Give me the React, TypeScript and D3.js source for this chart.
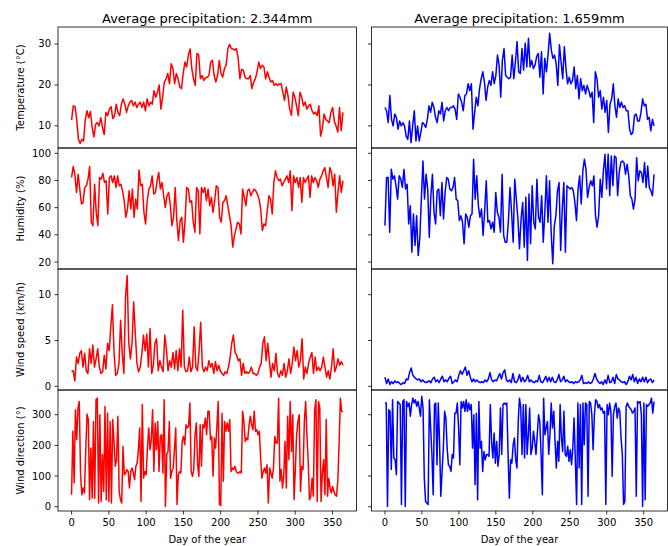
import React from "react";
import * as d3 from "d3";

const W = 668;
const H = 546;

const titles = ["Average precipitation: 2.344mm", "Average precipitation: 1.659mm"];
const rowLabels = ["Temperature (°C)", "Humidity (%)", "Wind speed (km/h)", "Wind direction (°)"];
const xTicks = [0, 50, 100, 150, 200, 250, 300, 350];
const lastDay = 364;

// station A (red) and station B (blue), daily readings
const tempA = [11.4,14.9,14.7,11.6,6.7,5.7,6.7,6.3,11.6,13.7,12.0,13.5,9.6,7.3,10.4,10.8,10.0,12.0,9.6,7.9,13.3,12.5,14.1,14.7,11.8,12.5,15.3,13.3,12.5,15.3,16.6,15.3,13.3,14.9,15.8,16.2,14.9,15.8,14.5,15.3,15.8,14.5,15.8,13.7,16.6,14.9,15.8,15.3,18.6,17.0,18.2,20.0,14.1,17.0,20.7,21.5,22.8,20.3,25.2,24.0,20.3,22.8,21.5,19.5,19.1,22.8,25.6,24.4,27.3,28.8,24.0,21.5,19.9,27.7,27.3,21.5,22.3,21.1,21.7,21.9,22.3,25.6,26.0,22.3,20.7,22.3,26.0,22.8,21.9,24.0,24.8,28.9,29.9,28.9,28.8,28.5,28.9,26.5,21.5,23.8,23.6,21.9,21.5,21.5,22.3,19.1,20.7,21.5,23.2,25.6,24.0,24.8,24.4,21.5,23.2,21.9,20.7,21.1,19.9,20.3,19.9,20.3,20.3,18.2,16.2,19.5,17.4,14.1,12.6,18.2,17.0,14.9,12.5,18.2,17.0,14.9,15.8,14.1,14.9,15.3,13.7,12.9,13.3,12.5,14.9,7.5,9.2,12.9,11.6,11.2,10.8,13.3,14.5,11.2,10.0,8.5,14.5,8.8,13.3];
const tempB = [14.5,13.7,10.8,17.4,11.6,10.0,12.9,12.1,9.2,11.2,10.0,10.8,10.0,7.5,6.7,11.2,5.9,10.0,13.7,6.3,10.0,6.3,8.4,10.8,10.4,9.6,11.6,14.9,13.3,15.8,14.5,12.1,10.8,13.7,12.9,15.8,11.2,13.7,14.5,13.7,14.5,14.5,14.9,14.1,11.6,17.8,17.0,15.8,13.7,17.4,17.8,20.3,18.6,20.3,9.2,13.3,17.0,14.9,19.1,21.5,23.2,20.7,16.2,19.5,21.1,19.9,23.2,20.3,22.3,27.3,24.8,17.0,26.0,28.9,22.3,21.9,21.5,21.9,27.3,21.5,25.6,30.6,23.2,22.8,28.9,23.6,30.2,24.4,31.4,24.4,26.0,24.0,24.8,26.9,27.7,21.9,28.1,17.8,26.5,23.2,27.3,32.6,28.5,26.5,27.3,25.2,19.9,29.8,25.6,21.5,29.3,24.0,20.3,21.9,20.3,21.1,24.4,19.1,22.3,16.6,21.5,18.6,19.9,17.8,19.9,18.6,17.0,18.2,10.8,23.2,21.5,17.0,18.6,14.1,17.0,13.3,16.2,8.4,15.3,16.6,20.3,14.9,12.1,16.6,14.5,15.8,14.5,14.9,13.7,13.7,9.2,7.9,8.4,12.5,12.9,11.2,11.2,13.3,16.6,14.9,15.3,11.6,12.1,8.8,11.6,10.0];

const humA = [82.2,90.2,84.6,71.2,84.6,73.7,62.7,63.9,74.9,76.1,81.0,90.2,49.3,46.8,77.3,56.6,46.8,82.2,81.0,85.4,78.5,79.8,55.4,82.2,83.4,78.5,83.4,74.9,83.4,76.1,77.3,72.4,65.1,52.9,59.0,72.4,59.0,73.7,52.9,66.3,59.0,87.8,76.1,77.3,56.6,48.0,65.1,73.7,76.1,83.4,70.0,71.2,79.8,85.9,73.7,78.5,68.8,60.2,68.8,71.2,62.7,46.8,52.9,74.9,50.5,35.9,50.5,52.9,34.6,50.5,74.9,73.7,63.9,65.1,49.3,42.0,74.9,72.4,40.7,74.9,71.2,74.9,65.1,73.7,61.5,67.6,56.6,65.1,76.1,74.9,52.9,49.3,63.9,65.1,68.8,61.5,54.1,46.8,31.0,39.5,44.4,49.3,48.0,40.7,73.7,67.6,61.5,72.4,73.7,68.8,71.2,73.7,72.4,70.0,66.3,59.0,43.2,48.0,46.8,57.8,68.8,66.3,55.4,78.5,87.1,82.2,79.8,81.0,76.1,78.5,81.0,83.4,78.5,87.1,57.8,83.4,78.5,82.2,74.9,82.2,63.9,82.2,78.5,81.0,83.4,67.6,83.4,78.5,82.2,79.8,74.9,81.0,83.4,87.1,89.5,82.2,74.9,89.5,85.9,76.1,84.6,56.6,71.2,83.4,71.2,79.8];
const humB = [46.8,82.2,82.2,42.0,88.3,81.0,83.4,76.1,66.3,83.4,81.0,74.9,88.3,73.7,77.3,48.0,61.5,27.3,55.4,32.2,54.1,24.9,37.1,66.3,94.4,66.3,84.6,73.7,38.3,68.8,84.6,56.6,48.0,72.4,73.7,54.1,78.5,51.7,71.2,82.2,81.0,73.7,72.4,74.9,82.2,66.3,65.1,50.5,54.1,49.3,33.4,55.4,52.9,45.6,54.1,55.4,95.6,66.3,83.4,61.5,52.9,59.0,39.5,57.8,79.8,49.3,50.5,44.4,49.3,42.0,71.2,56.6,52.9,42.0,84.6,39.5,34.6,34.6,50.5,74.9,56.6,34.6,81.0,66.3,51.7,29.8,51.7,63.9,31.0,67.6,21.2,70.0,33.4,76.1,49.3,44.4,81.0,52.9,49.3,68.8,34.6,56.6,83.4,49.3,79.8,42.0,18.8,46.8,54.1,72.4,78.5,28.5,59.0,78.5,27.3,76.1,74.9,73.7,74.9,72.4,63.9,50.5,73.7,83.4,62.7,87.1,95.6,88.3,67.6,74.9,79.8,76.1,83.4,54.1,45.6,54.1,81.0,67.6,87.1,99.3,73.7,99.3,68.8,98.0,76.1,98.0,96.8,68.8,85.9,93.2,94.4,93.2,84.6,92.0,83.4,68.8,66.3,59.0,66.3,96.8,79.8,87.1,85.9,78.5,93.2,74.9,90.7,74.9,72.4,68.8,84.6];

const windA = [1.6,1.7,0.6,3.2,2.5,3.6,3.9,2.1,3.6,1.7,1.4,4.1,2.5,4.5,2.1,3.0,4.1,2.1,1.4,1.6,3.4,1.9,4.7,3.9,6.5,8.9,3.6,1.2,1.4,2.5,7.2,3.6,1.4,9.7,12.1,4.7,3.0,4.8,9.2,5.7,2.5,1.6,2.1,3.6,5.6,3.9,5.7,2.1,6.3,1.4,2.3,4.7,5.2,1.7,2.8,2.1,1.6,5.6,4.1,1.7,2.8,2.1,3.7,1.9,3.9,1.7,4.1,2.1,8.3,2.1,1.6,1.7,3.2,1.6,2.1,6.5,2.1,1.7,3.9,7.0,2.1,1.6,2.1,1.7,2.8,2.1,2.5,1.4,2.7,1.7,2.3,1.7,1.4,1.2,1.6,1.4,2.1,3.2,4.7,5.6,3.7,3.4,2.8,3.0,1.2,2.5,1.4,1.6,1.4,1.6,2.1,1.4,1.4,1.2,1.4,2.1,2.5,4.7,5.4,2.8,4.7,2.8,1.0,2.5,1.7,3.6,1.4,1.0,1.7,1.2,2.5,1.0,1.7,3.0,1.4,2.5,4.3,2.8,3.9,2.1,2.8,5.2,0.8,2.1,1.4,2.5,3.2,3.7,1.4,3.2,1.7,2.1,1.7,2.1,3.2,2.1,1.0,1.7,0.8,2.1,4.1,1.6,2.1,3.0,2.3,2.7,2.3];
const windB = [1.0,0.3,0.8,0.2,0.5,0.3,0.6,0.4,0.5,0.3,0.2,0.4,0.3,0.8,0.7,1.5,2.0,1.2,1.0,0.8,0.7,0.8,0.5,0.7,0.5,0.4,0.5,0.6,0.4,0.8,1.0,0.5,0.7,0.4,0.8,1.1,0.5,0.7,0.5,0.9,1.1,0.3,0.5,0.7,0.5,1.2,1.7,1.3,1.7,2.1,1.2,1.7,1.0,0.5,0.8,0.5,0.7,0.5,0.4,0.5,0.4,0.7,0.5,0.8,1.5,0.7,0.5,0.7,0.6,1.0,1.4,0.8,1.5,1.8,0.7,0.5,0.7,0.4,1.4,0.5,0.4,0.7,1.3,0.5,1.0,0.5,0.7,1.2,0.5,0.7,0.5,0.4,0.6,0.5,1.2,0.5,0.4,0.7,1.1,0.5,1.0,0.5,1.0,0.5,0.4,0.7,1.3,0.5,0.7,1.1,0.5,0.7,0.5,0.4,0.5,0.3,0.5,0.4,0.5,0.7,1.2,0.3,0.4,0.3,0.5,0.3,0.4,0.8,1.4,0.8,0.5,0.3,0.5,0.2,0.7,0.3,1.2,0.4,0.5,1.0,0.3,1.3,0.8,0.7,0.5,0.4,0.5,0.2,0.5,1.1,0.7,1.3,0.5,1.0,0.3,0.8,0.5,1.0,0.5,1.0,0.4,0.7,0.8,0.4,0.7];

const dirA = [39,246,77,316,218,322,343,104,39,61,45,180,302,284,23,191,28,278,28,349,354,12,300,17,170,50,327,23,305,17,278,12,284,213,132,153,295,50,23,12,197,104,110,121,115,61,115,126,110,88,132,142,186,257,17,333,93,115,104,191,257,186,218,316,115,273,186,278,115,229,235,110,349,1,170,180,278,93,115,126,186,257,7,104,115,110,213,229,202,267,257,262,338,115,99,121,235,273,137,99,267,132,267,257,289,235,311,311,218,229,99,224,191,262,343,7,4,305,83,278,246,273,246,284,115,126,121,132,115,110,110,115,110,311,278,213,224,218,267,295,267,251,311,246,251,235,246,159,93,115,126,110,137,12,126,110,93,126,229,208,208,354,83,121,61,104,213,61,295,153,343,180,300,23,121,235,278,300,50,132,121,278,343,235,148,23,34,93,34,316,349,17,343,322,17,110,153,39,284,34,93,61,45,66,50,39,34,83,202,354,311,309];
const dirB = [338,338,1,316,311,121,349,159,153,104,343,338,333,7,343,349,1,343,327,338,295,333,354,338,349,327,343,322,295,360,322,93,17,12,7,349,257,170,39,333,338,137,338,213,34,115,191,311,289,191,137,132,115,170,159,305,305,338,257,137,343,322,343,311,349,311,338,316,333,191,300,72,305,23,343,191,213,115,180,153,170,170,164,333,213,159,240,142,213,132,170,322,170,333,338,333,338,170,28,153,142,202,224,153,126,278,354,322,170,333,159,333,170,235,322,170,191,246,213,170,235,300,278,170,39,354,235,257,278,170,235,338,257,311,213,126,213,148,333,224,180,311,170,164,197,148,186,137,191,289,148,7,338,126,333,7,338,202,338,333,34,343,338,300,186,300,349,343,322,333,316,322,305,311,7,333,300,338,311,99,300,327,338,289,322,311,224,170,7,17,327,338,327,322,316,305,311,322,34,343,338,343,300,1,338,23,333,327,333,338,354,305,343];

const rowTicks = [[10, 20, 30], [20, 40, 60, 80, 100], [0, 5, 10], [0, 100, 200, 300]];
const rowDomains: [number, number][] = [[4.6, 34.15], [14.9, 103.9], [-0.4, 12.8], [-14, 380.5]];
const seriesA = [tempA, humA, windA, dirA];
const seriesB = [tempB, humB, windB, dirB];

const cols = [
  { x0: 58, x1: 356.5, color: "red", series: seriesA },
  { x0: 371.5, x1: 667.5, color: "blue", series: seriesB },
];
const top = 27;
const rowH = 121;
const font = "DejaVu Sans, sans-serif";

export default function App() {
  return (
    <svg width={W} height={H} style={{ position: "absolute", left: 0, top: 0, background: "#fff" }} fontFamily={font}>
      <rect width={W} height={H} fill="#fff" />
      {cols.map((c, ci) => {
        const x = d3.scaleLinear().domain([-18.2, 382.2]).range([c.x0, c.x1]);
        return (
          <g key={ci}>
            <text x={(c.x0 + c.x1) / 2} y={22.5} fontSize={13} textAnchor="middle">{titles[ci]}</text>
            {rowDomains.map((dom, ri) => {
              const y0 = top + ri * rowH;
              const y = d3.scaleLinear().domain(dom).range([y0 + rowH, y0]);
              const vals = c.series[ri];
              const line = d3.line<number>()
                .x((_, i) => x((i * lastDay) / (vals.length - 1)))
                .y((v) => y(v));
              return (
                <g key={ri}>
                  <path d={line(vals) || ""} fill="none" stroke={c.color} strokeWidth={1.5} strokeLinejoin="round" />
                  {rowTicks[ri].map((t) => (
                    <g key={t}>
                      <line x1={c.x0 - 3.5} x2={c.x0} y1={y(t)} y2={y(t)} stroke="#000" strokeWidth={0.8} />
                      {ci === 0 && (
                        <text x={c.x0 - 7} y={y(t)} dy="0.35em" fontSize={10} textAnchor="end">{t}</text>
                      )}
                    </g>
                  ))}
                  <rect x={c.x0} y={y0} width={c.x1 - c.x0} height={rowH} fill="none" stroke="#000" strokeWidth={0.8} />
                  {ci === 0 && (
                    <text transform={`translate(23.5, ${y0 + rowH / 2}) rotate(-90)`} fontSize={10} textAnchor="middle">
                      {rowLabels[ri]}
                    </text>
                  )}
                </g>
              );
            })}
            {xTicks.map((t) => (
              <g key={t}>
                <line x1={x(t)} x2={x(t)} y1={top + 4 * rowH} y2={top + 4 * rowH + 3.5} stroke="#000" strokeWidth={0.8} />
                <text x={x(t)} y={526} fontSize={10} textAnchor="middle">{t}</text>
              </g>
            ))}
            <text x={(c.x0 + c.x1) / 2} y={543} fontSize={10} textAnchor="middle">Day of the year</text>
          </g>
        );
      })}
    </svg>
  );
}
